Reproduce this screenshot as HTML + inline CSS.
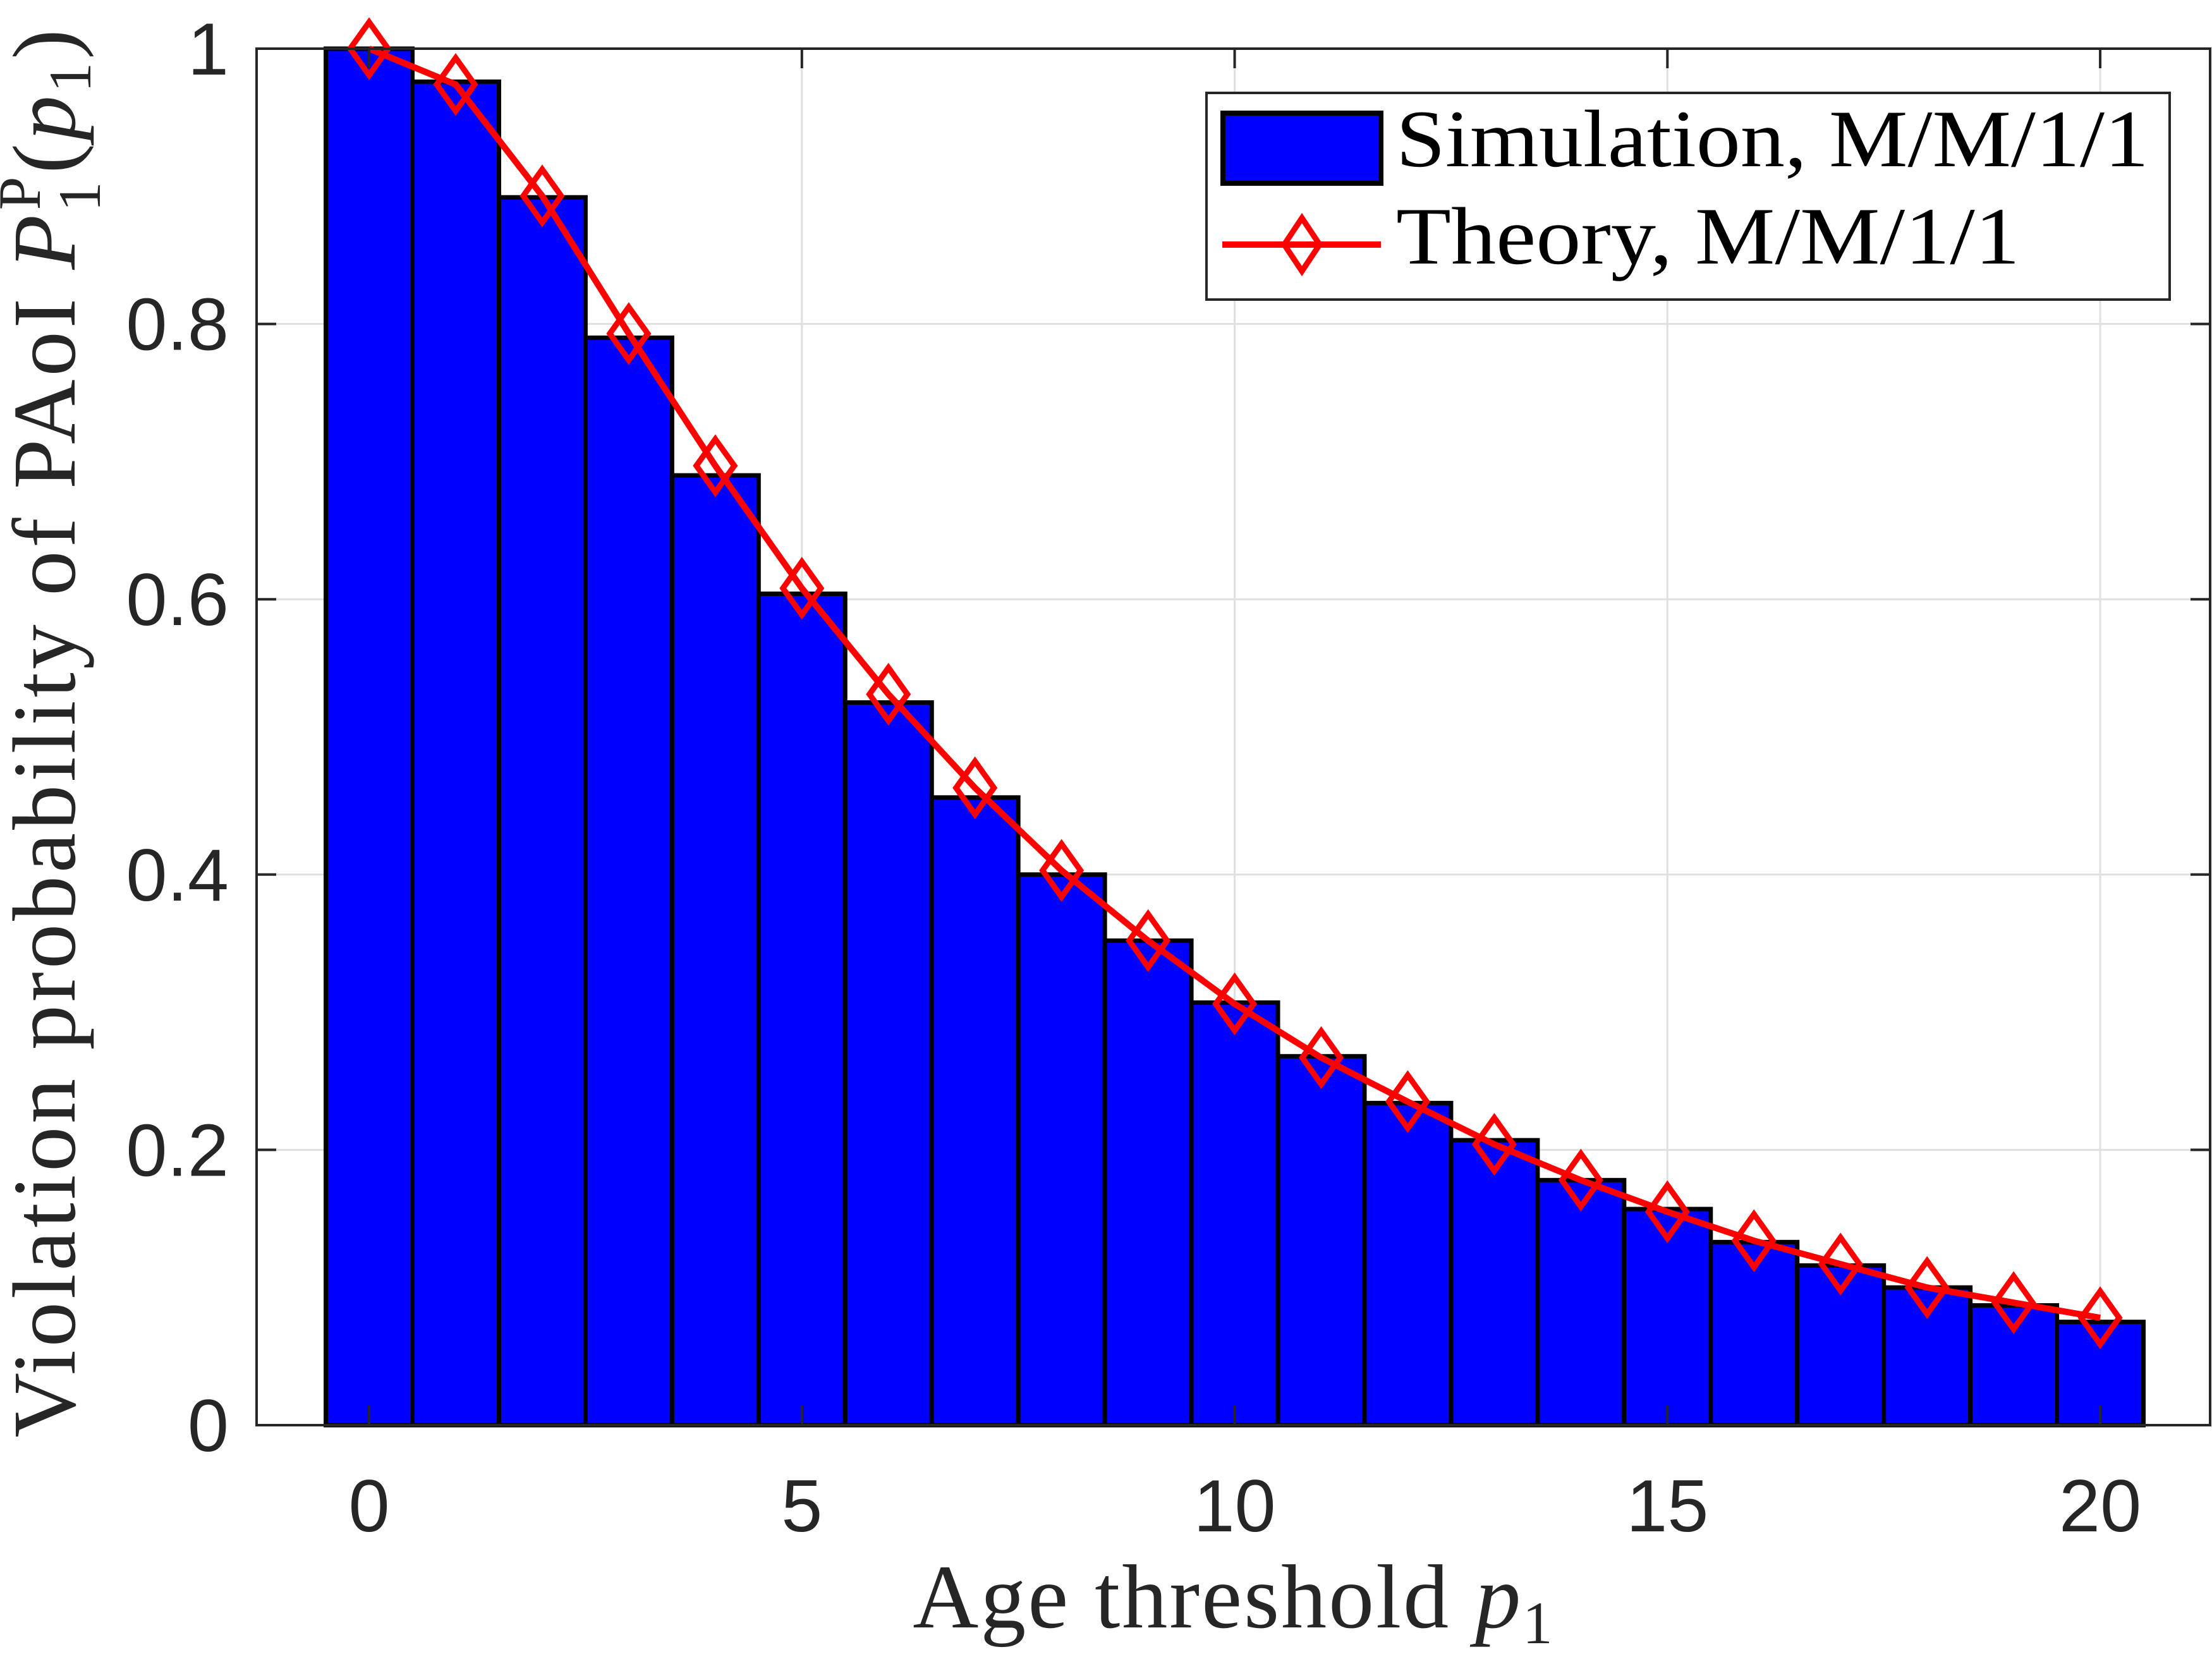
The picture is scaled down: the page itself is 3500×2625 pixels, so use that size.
<!DOCTYPE html>
<html><head><meta charset="utf-8"><style>
html,body{margin:0;padding:0;background:#fff;}
svg{display:block;}
</style></head><body>
<svg id="chart" width="3500" height="2625" viewBox="0 0 3500 2625" xmlns="http://www.w3.org/2000/svg">
<rect x="0" y="0" width="3500" height="2625" fill="#fff"/>
<g id="grid"></g>
<g id="bars"></g>
<g id="theory"></g>
<g id="axes"></g>
<text x="118" y="1158" transform="rotate(-90 118 1158)" text-anchor="middle" font-family="Liberation Serif, serif" font-size="142" letter-spacing="5" fill="#262626">Violation probability of PAoI <tspan font-style="italic">P</tspan><tspan font-size="95" dy="40">1</tspan><tspan font-size="95" dy="-95" dx="-50">P</tspan><tspan dy="55">(</tspan><tspan font-style="italic">p</tspan><tspan font-size="95" dy="25">1</tspan><tspan dy="-25">)</tspan></text>
<text x="1952" y="2575" text-anchor="middle" font-family="Liberation Serif, serif" font-size="144" letter-spacing="3" fill="#262626">Age threshold <tspan font-style="italic">p</tspan><tspan font-size="95" dy="25">1</tspan></text>
<g>
<rect x="1909" y="147" width="1524" height="327" fill="#fff" stroke="#262626" stroke-width="4"/>
<rect x="1935" y="179" width="250" height="111" fill="#0000ff" stroke="#000" stroke-width="8"/>
<text x="2209" y="263" font-family="Liberation Serif, serif" font-size="129" textLength="1191" lengthAdjust="spacingAndGlyphs" fill="#000">Simulation, M/M/1/1</text>
<line x1="1934" y1="387" x2="2185" y2="387" stroke="#ff0000" stroke-width="10"/>
<polygon points="2060,345 2088,387 2060,429 2032,387" fill="none" stroke="#ff0000" stroke-width="9"/>
<text x="2209" y="417" font-family="Liberation Serif, serif" font-size="129" textLength="987" lengthAdjust="spacingAndGlyphs" fill="#000">Theory, M/M/1/1</text>
</g>
</svg>
<script>
const categories = [0,1,2,3,4,5,6,7,8,9,10,11,12,13,14,15,16,17,18,19,20];
const simulationValues = [1.0,0.976,0.892,0.790,0.690,0.604,0.525,0.456,0.400,0.352,0.307,0.268,0.234,0.207,0.178,0.157,0.133,0.116,0.100,0.087,0.075];
const theoryValues = [1.0,0.974,0.893,0.793,0.697,0.608,0.531,0.463,0.403,0.352,0.306,0.267,0.235,0.204,0.178,0.155,0.134,0.117,0.100,0.089,0.078];
const xTicks = [0,5,10,15,20];
const xTickLabels = ["0","5","10","15","20"];
const yTicks = [0,0.2,0.4,0.6,0.8,1];
const yTickLabels = ["0","0.2","0.4","0.6","0.8","1"];

const NS = "http://www.w3.org/2000/svg";
const L = 406, R = 3497, T = 77, B = 2255;
const X0 = -1.3, X1 = 21.27;
function xs(v){ return L + (v - X0) / (X1 - X0) * (R - L); }
function ys(v){ return B - v * (B - T); }
function mk(tag, attrs, parent){
  const e = document.createElementNS(NS, tag);
  for (const k in attrs) e.setAttribute(k, attrs[k]);
  parent.appendChild(e);
  return e;
}
const grid = document.getElementById('grid');
xTicks.forEach(function(t){
  const g = mk('line', {x1: xs(t), x2: xs(t), y1: T, y2: B, stroke: '#e0e0e0', 'stroke-width': 3}, grid);
  
  
});
yTicks.forEach(function(t){
  const g = mk('line', {x1: L, x2: R, y1: ys(t), y2: ys(t), stroke: '#e0e0e0', 'stroke-width': 3}, grid);
  
  
});
const bars = document.getElementById('bars');
categories.forEach(function(c, i){
  const x0 = xs(c - 0.5), x1 = xs(c + 0.5);
  const b = mk('rect', {x: x0, y: ys(simulationValues[i]), width: x1 - x0, height: ys(0) - ys(simulationValues[i]), fill: '#0000ff', stroke: '#000', 'stroke-width': 7}, bars);
  
  
});
const th = document.getElementById('theory');
const pts = categories.map(function(c, i){ return xs(c) + ',' + ys(theoryValues[i]); }).join(' ');
const pl = mk('polyline', {points: pts, fill: 'none', stroke: '#ff0000', 'stroke-width': 10, 'stroke-linejoin': 'round'}, th);


categories.forEach(function(c, i){
  const cx = xs(c), cy = ys(theoryValues[i]);
  const m = mk('polygon', {points: cx + ',' + (cy - 42) + ' ' + (cx + 30) + ',' + cy + ' ' + cx + ',' + (cy + 42) + ' ' + (cx - 30) + ',' + cy, fill: 'none', stroke: '#ff0000', 'stroke-width': 9}, th);
  
  
});
const ax = document.getElementById('axes');
const box = mk('rect', {x: L, y: T, width: R - L, height: B - T, fill: 'none', stroke: '#262626', 'stroke-width': 4}, ax);


xTicks.forEach(function(t, i){
  const a = mk('line', {x1: xs(t), x2: xs(t), y1: B, y2: B - 31, stroke: '#262626', 'stroke-width': 4}, ax);
  
  
  const b = mk('line', {x1: xs(t), x2: xs(t), y1: T, y2: T + 31, stroke: '#262626', 'stroke-width': 4}, ax);
  
  
  const tx = mk('text', {x: xs(t), y: 2423, 'text-anchor': 'middle', 'font-family': 'Liberation Sans, sans-serif', 'font-size': 117, fill: '#262626'}, ax);
  tx.textContent = xTickLabels[i];
  
  
});
yTicks.forEach(function(t, i){
  const a = mk('line', {x1: L, x2: L + 31, y1: ys(t), y2: ys(t), stroke: '#262626', 'stroke-width': 4}, ax);
  
  
  const b = mk('line', {x1: R, x2: R - 31, y1: ys(t), y2: ys(t), stroke: '#262626', 'stroke-width': 4}, ax);
  
  
  const tx = mk('text', {x: 362, y: ys(t) + 41, 'text-anchor': 'end', 'font-family': 'Liberation Sans, sans-serif', 'font-size': 117, fill: '#262626'}, ax);
  tx.textContent = yTickLabels[i];
  
  
});
</script>
</body></html>
